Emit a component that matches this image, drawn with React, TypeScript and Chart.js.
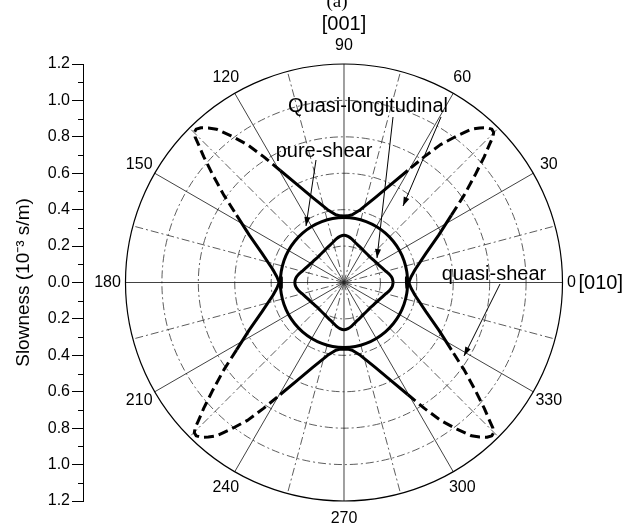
import React, { useEffect, useRef } from 'react';
import { Chart, registerables } from 'chart.js';

Chart.register(...registerables);

const FONT = '"Liberation Sans", Arial, Helvetica, sans-serif';
const SERIF = '"Liberation Serif", "Times New Roman", serif';

// Quasi-longitudinal slowness, first quadrant: angle from [010] (deg), slowness (1e-3 s/m)
const QL_ANGLE = [0, 5, 10, 15, 20, 25, 30, 35, 40, 45, 50, 55, 60, 65, 70, 75, 80, 85, 90];
const QL_SLOWNESS = [0.270, 0.266, 0.254, 0.238, 0.226, 0.217, 0.210, 0.205, 0.202, 0.200, 0.201, 0.203, 0.207, 0.213, 0.220, 0.230, 0.243, 0.254, 0.260];

// Pure-shear slowness, first quadrant
const PS_ANGLE = [0, 10, 20, 30, 40, 50, 60, 70, 80, 90];
const PS_SLOWNESS = [0.350, 0.350, 0.351, 0.352, 0.353, 0.354, 0.355, 0.356, 0.357, 0.357];

// Quasi-shear slowness branch, first quadrant, as slowness components along [010] and [001]
const QS_S010 = [0.343, 0.345, 0.356, 0.368, 0.390, 0.450, 0.520, 0.590, 0.660, 0.720, 0.770, 0.800, 0.818, 0.822, 0.812, 0.785, 0.745, 0.700, 0.620, 0.530, 0.440, 0.350, 0.260, 0.170, 0.090, 0.045, 0.020, 0.000];
const QS_S001 = [0.000, -0.027, 0.000, 0.030, 0.070, 0.160, 0.260, 0.370, 0.480, 0.590, 0.690, 0.760, 0.800, 0.825, 0.842, 0.850, 0.849, 0.842, 0.805, 0.757, 0.690, 0.615, 0.540, 0.465, 0.400, 0.372, 0.366, 0.365];

// Polar grid
const RING_VALUES = [0.2, 0.4, 0.6, 0.8, 1.0];
const OUTER_RADIUS = 1.2;
const SPOKE_ANGLES = [0, 15, 30, 45, 60, 75, 90, 105, 120, 135, 150, 165, 180, 195, 210, 225, 240, 255, 270, 285, 300, 315, 330, 345];
const ANGLE_LABELS = [0, 30, 60, 90, 120, 150, 180, 210, 240, 270, 300, 330];
const DASH_LIMIT = 0.68;

type P = { x: number; y: number };

function polarQuadrant(angles: number[], radii: number[]): P[] {
  return angles.map((a, i) => ({
    x: radii[i] * Math.cos((a * Math.PI) / 180),
    y: radii[i] * Math.sin((a * Math.PI) / 180),
  }));
}

function mirrorAll(q: P[]): P[] {
  const q2 = q.slice().reverse().map((p) => ({ x: -p.x, y: p.y }));
  const q3 = q.map((p) => ({ x: -p.x, y: -p.y }));
  const q4 = q.slice().reverse().map((p) => ({ x: p.x, y: -p.y }));
  return [...q, ...q2.slice(1), ...q3.slice(1), ...q4.slice(1)];
}

function arrow(ctx: CanvasRenderingContext2D, x1: number, y1: number, x2: number, y2: number) {
  ctx.beginPath();
  ctx.moveTo(x1, y1);
  ctx.lineTo(x2, y2);
  ctx.stroke();
  const a = Math.atan2(y2 - y1, x2 - x1);
  const L = 9, W = 3;
  ctx.beginPath();
  ctx.moveTo(x2, y2);
  ctx.lineTo(x2 - L * Math.cos(a) + W * Math.sin(a), y2 - L * Math.sin(a) - W * Math.cos(a));
  ctx.lineTo(x2 - L * Math.cos(a) - W * Math.sin(a), y2 - L * Math.sin(a) + W * Math.cos(a));
  ctx.closePath();
  ctx.fill();
}

const polarPlugin = {
  id: 'polarGrid',
  beforeDatasetsDraw(chart: any) {
    const { ctx } = chart;
    const xs = chart.scales.x, ys = chart.scales.y;
    const cx = xs.getPixelForValue(0), cy = ys.getPixelForValue(0);
    const unit = ys.getPixelForValue(0) - ys.getPixelForValue(1);
    const R = OUTER_RADIUS * unit;
    ctx.save();
    ctx.strokeStyle = '#333';
    ctx.lineWidth = 0.8;
    ctx.setLineDash([8, 3, 2, 3]);
    RING_VALUES.forEach((v) => {
      ctx.beginPath();
      ctx.arc(cx, cy, v * unit, 0, Math.PI * 2);
      ctx.stroke();
    });
    SPOKE_ANGLES.forEach((a) => {
      const rad = (a * Math.PI) / 180;
      ctx.setLineDash(a % 30 === 0 ? [] : [8, 3, 2, 3]);
      ctx.strokeStyle = a % 30 === 0 ? '#111' : '#333';
      ctx.beginPath();
      ctx.moveTo(cx, cy);
      ctx.lineTo(cx + R * Math.cos(rad), cy - R * Math.sin(rad));
      ctx.stroke();
    });
    ctx.setLineDash([]);
    ctx.strokeStyle = '#000';
    ctx.lineWidth = 1.2;
    ctx.beginPath();
    ctx.arc(cx, cy, R, 0, Math.PI * 2);
    ctx.stroke();
    ctx.restore();
  },
  afterDraw(chart: any) {
    const { ctx, chartArea } = chart;
    const xs = chart.scales.x, ys = chart.scales.y;
    const cx = xs.getPixelForValue(0), cy = ys.getPixelForValue(0);
    const unit = ys.getPixelForValue(0) - ys.getPixelForValue(1);
    const R = OUTER_RADIUS * unit;
    ctx.save();
    // minor ticks on slowness axis
    ctx.strokeStyle = '#000';
    ctx.lineWidth = 1;
    for (let k = -11; k <= 11; k += 2) {
      const y = Math.round(ys.getPixelForValue(k / 10)) + 0.5;
      ctx.beginPath();
      ctx.moveTo(chartArea.left - 5, y);
      ctx.lineTo(chartArea.left, y);
      ctx.stroke();
    }
    // angle labels
    ctx.fillStyle = '#000';
    ctx.font = `16px ${FONT}`;
    ctx.textAlign = 'center';
    ctx.textBaseline = 'middle';
    ANGLE_LABELS.forEach((a) => {
      const rad = (a * Math.PI) / 180;
      const lr = a === 0 ? R + 9 : R + 18;
      ctx.fillText(String(a), cx + lr * Math.cos(rad), cy - lr * Math.sin(rad));
    });
    ctx.font = `20px ${FONT}`;
    ctx.textAlign = 'left';
    ctx.fillText('[010]', cx + R + 16, cy + 1);
    ctx.textAlign = 'center';
    ctx.fillText('[001]', cx, 24);
    ctx.font = `19px ${SERIF}`;
    ctx.textBaseline = 'alphabetic';
    ctx.fillText('(a)', cx - 7, 7);
    // annotations
    ctx.font = `20px ${FONT}`;
    ctx.fillText('Quasi-longitudinal', 368, 112);
    ctx.fillText('pure-shear', 324, 157);
    ctx.fillText('quasi-shear', 494, 280);
    ctx.lineWidth = 1;
    ctx.strokeStyle = '#000';
    arrow(ctx, 393, 117, 377, 258);
    arrow(ctx, 441, 117, 403, 206);
    arrow(ctx, 316, 160, 306, 226);
    arrow(ctx, 500, 284, 464, 356);
    ctx.restore();
  },
};

export default function App() {
  const ref = useRef<HTMLCanvasElement>(null);
  useEffect(() => {
    const canvas = ref.current!;
    const ql = mirrorAll(polarQuadrant(QL_ANGLE, QL_SLOWNESS));
    const ps = mirrorAll(polarQuadrant(PS_ANGLE, PS_SLOWNESS));
    const qs = mirrorAll(QS_S010.map((x, i) => ({ x, y: QS_S001[i] })));
    const rOf = (p: any) => Math.hypot(p.parsed.x, p.parsed.y);
    const chart = new Chart(canvas, {
      type: 'scatter',
      data: {
        datasets: [
          { label: 'Quasi-longitudinal', data: ql, showLine: true, borderColor: '#000', borderWidth: 3, pointRadius: 0, tension: 0.2, borderJoinStyle: 'round' },
          { label: 'pure-shear', data: ps, showLine: true, borderColor: '#000', borderWidth: 3, pointRadius: 0, tension: 0.4, borderJoinStyle: 'round' },
          {
            label: 'quasi-shear', data: qs, showLine: true, borderColor: '#000', borderWidth: 3, pointRadius: 0, tension: 0, borderJoinStyle: 'round',
            segment: {
              borderDash: (c: any) => ((rOf(c.p0) + rOf(c.p1)) / 2 > DASH_LIMIT ? [10, 5] : undefined),
            },
          },
        ],
      } as any,
      options: {
        responsive: false,
        animation: false,
        events: [],
        layout: { padding: { left: 0, right: 62, top: 64, bottom: 24 } },
        plugins: { legend: { display: false }, tooltip: { enabled: false } },
        scales: {
          x: { type: 'linear', display: false, min: -1.4334, max: 1.2138 },
          y: {
            type: 'linear', position: 'left', min: -1.2, max: 1.2,
            afterFit: (s: any) => { s.width = 83; },
            ticks: {
              stepSize: 0.2,
              color: '#000',
              padding: 2,
              font: { family: FONT, size: 16 },
              callback: (v: any) => Math.abs(Number(v)).toFixed(1),
            },
            grid: { drawOnChartArea: false, tickLength: 11, color: '#000', lineWidth: 1 },
            border: { display: true, color: '#000', width: 1 },
            title: { display: true, text: 'Slowness (10⁻³ s/m)', color: '#000', font: { family: FONT, size: 19 }, padding: { top: 12, bottom: 0 } },
          },
        },
      } as any,
      plugins: [polarPlugin],
    });
    return () => chart.destroy();
  }, []);
  return (
    <div style={{ position: 'absolute', left: 0, top: 0, width: 627, height: 525, background: '#fff' }}>
      <canvas ref={ref} width={627} height={525} style={{ display: 'block' }} />
    </div>
  );
}
